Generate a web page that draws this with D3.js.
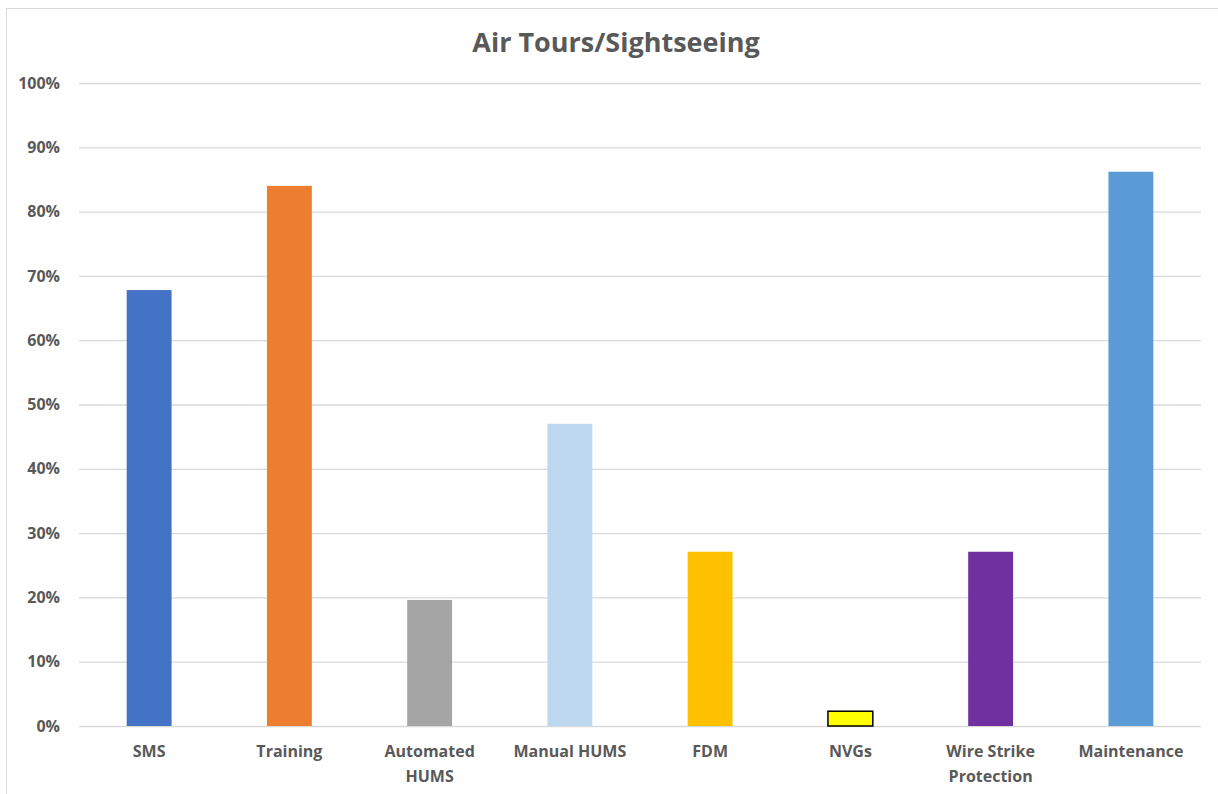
<!DOCTYPE html>
<html>
<head>
<meta charset="utf-8">
<script src="https://cdn.jsdelivr.net/npm/d3@7"></script>
<style>
  body { margin: 0; background: #fff; }
  text { font-family: "Open Sans", Lato, sans-serif; font-weight: bold; fill: #595959; }
</style>
</head>
<body>
<svg id="chart" width="1218" height="794"></svg>
<script>
// chart data
const categories = ["SMS", "Training", "Automated HUMS", "Manual HUMS", "FDM", "NVGs", "Wire Strike Protection", "Maintenance"];
const labelLines = [["SMS"], ["Training"], ["Automated", "HUMS"], ["Manual HUMS"], ["FDM"], ["NVGs"], ["Wire Strike", "Protection"], ["Maintenance"]];
const values = [0.678, 0.84, 0.196, 0.47, 0.271, 0.023, 0.271, 0.862];
const colors = ["#4472C4", "#ED7D31", "#A5A5A5", "#BDD7EE", "#FFC000", "#FFFF00", "#7030A0", "#5B9BD5"];
const yTicks = [0, 0.1, 0.2, 0.3, 0.4, 0.5, 0.6, 0.7, 0.8, 0.9, 1.0];

const margin = { top: 83, right: 17, bottom: 68, left: 79 };
const width = 1218 - margin.left - margin.right;
const height = 794 - margin.top - margin.bottom;

const svg = d3.select("#chart");

// outer chart border
svg.append("rect")
  .attr("x", 6.5).attr("y", 8.5)
  .attr("width", 1230).attr("height", 800)
  .attr("fill", "none")
  .attr("stroke", "#d9d9d9");

svg.append("text")
  .attr("x", 616).attr("y", 52)
  .attr("text-anchor", "middle")
  .style("font-size", "27px")
  .text("Air Tours/Sightseeing");

const g = svg.append("g")
  .attr("transform", "translate(" + margin.left + "," + margin.top + ")");

const x = d3.scaleBand()
  .domain(categories)
  .range([0, width])
  .paddingInner(0.68)
  .paddingOuter(0.34);

const y = d3.scaleLinear()
  .domain([0, 1])
  .range([height, 0]);

// gridlines + y labels
const yAxis = g.append("g")
  .call(d3.axisLeft(y)
    .tickValues(yTicks)
    .tickFormat(d3.format(".0%"))
    .tickSize(-width)
    .tickPadding(19));
yAxis.select(".domain").remove();
yAxis.selectAll(".tick line").attr("stroke", "#d9d9d9").attr("stroke-width", 1.3);
yAxis.selectAll(".tick text")
  .style("font-size", "16px")
  .style("font-family", "'Open Sans', sans-serif")
  .attr("fill", "#595959");

g.selectAll(".bar")
  .data(values)
  .enter()
  .append("rect")
  .attr("class", "bar")
  .attr("x", (d, i) => x(categories[i]))
  .attr("y", d => y(d))
  .attr("width", x.bandwidth())
  .attr("height", d => height - y(d))
  .attr("fill", (d, i) => colors[i])
  .attr("stroke", (d, i) => categories[i] === "NVGs" ? "#000" : "none")
  .attr("stroke-width", 1.5);

// x labels
const xl = g.selectAll(".xlabel")
  .data(categories)
  .enter()
  .append("text")
  .attr("class", "xlabel")
  .attr("text-anchor", "middle")
  .attr("x", d => x(d) + x.bandwidth() / 2)
  .attr("y", height + 31)
  .style("font-size", "16px");

xl.each(function(d, i) {
  const t = d3.select(this);
  labelLines[i].forEach((line, j) => {
    t.append("tspan")
      .attr("x", x(d) + x.bandwidth() / 2)
      .attr("dy", j === 0 ? 0 : 25)
      .text(line);
  });
});
</script>
</body>
</html>
